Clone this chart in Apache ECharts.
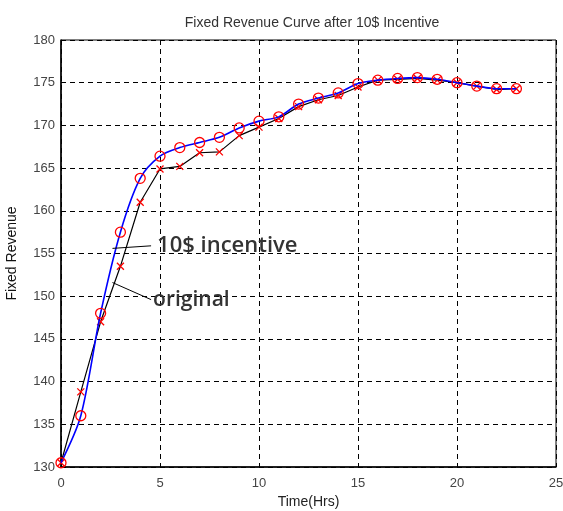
<!DOCTYPE html>
<html>
<head>
<meta charset="utf-8">
<script src="https://cdn.jsdelivr.net/npm/echarts@6/dist/echarts.min.js"></script>
<style>
html,body{margin:0;padding:0;background:#fff;}
#c{width:563px;height:511px;}
</style>
</head>
<body>
<div id="c"></div>
<script>
var hours = [0,1,2,3,4,5,6,7,8,9,10,11,12,13,14,15,16,17,18,19,20,21,22,23];
var incentive = [130.5,136.0,148.0,157.5,163.8,166.4,167.4,168.0,168.6,169.7,170.5,171.0,172.5,173.2,173.8,174.9,175.3,175.5,175.6,175.4,175.0,174.6,174.3,174.3];
var original = [130.5,138.8,147.0,153.5,161.0,164.9,165.2,166.8,166.9,168.8,169.8,170.8,172.2,173.0,173.5,174.5,175.3,175.4,175.5,175.3,175.0,174.6,174.2,174.3];
var xTicks = [0,5,10,15,20,25];
var yTicks = [130,135,140,145,150,155,160,165,170,175,180];
var titleText = 'Fixed Revenue Curve after 10$ Incentive';
var xName = 'Time(Hrs)';
var yName = 'Fixed Revenue';
var labelIncentive = '10$ incentive';
var labelOriginal = 'original';
var leaderIncentive = [[2.6,155.6],[4.55,155.9]];
var leaderOriginal = [[2.6,151.6],[4.55,149.6]];

var chart = echarts.init(document.getElementById('c'));
var crossPath = 'path://M0,0L10,10M10,0L0,10';
var splitStyle = {show:true, lineStyle:{color:'#000', type:[5,4], width:1}};
chart.setOption({
  backgroundColor:'#fff',
  animation:false,
  title:{text:titleText, left:307, top:11, textAlign:'center',
    textStyle:{fontFamily:'Liberation Sans', fontSize:14, fontWeight:'normal', color:'#333'}},
  grid:{left:61, right:7, top:40, bottom:44, containLabel:false, outerBoundsMode:'none',
    show:true, borderColor:'#000', borderWidth:1, backgroundColor:'transparent'},
  xAxis:{type:'value', min:0, max:25, interval:5, name:xName, nameLocation:'middle', nameGap:28,
    nameTextStyle:{fontFamily:'Liberation Sans', fontSize:14, color:'#222'},
    axisLine:{show:true, lineStyle:{color:'#000', width:1.5}},
    axisTick:{show:true, inside:true, length:4, lineStyle:{color:'#000'}},
    axisLabel:{fontFamily:'Liberation Sans', fontSize:13, color:'#444', margin:10,
      formatter:function(v){return xTicks.indexOf(v)>=0? String(v):'';}},
    splitLine:splitStyle},
  yAxis:{type:'value', min:130, max:180, interval:5, name:yName, nameLocation:'middle', nameGap:42,
    nameTextStyle:{fontFamily:'Liberation Sans', fontSize:14, color:'#111'},
    axisLine:{show:true, lineStyle:{color:'#000', width:1.5}},
    axisTick:{show:true, inside:true, length:4, lineStyle:{color:'#000'}},
    axisLabel:{fontFamily:'Liberation Sans', fontSize:13, color:'#444', margin:6,
      formatter:function(v){return yTicks.indexOf(v)>=0? String(v):'';}},
    splitLine:splitStyle},
  series:[
    {name:'original', type:'line', data:hours.map(function(h,i){return [h, original[i]];}),
      lineStyle:{color:'#000', width:1.2}, symbol:crossPath, symbolSize:7,
      itemStyle:{color:'none', borderColor:'#ff0000', borderWidth:1.3},
      markLine:{silent:true, symbol:'none', animation:false,
        lineStyle:{color:'#000', width:1, type:'solid'}, label:{show:false},
        data:[[{coord:leaderIncentive[0]},{coord:leaderIncentive[1]}],
              [{coord:leaderOriginal[0]},{coord:leaderOriginal[1]}]]},
      markPoint:{silent:true, symbol:'circle', symbolSize:0,
        label:{show:true, position:'right', distance:2, fontFamily:'Open Sans', fontWeight:600, fontSize:21, color:'#333'},
        data:[{coord:leaderIncentive[1], label:{formatter:labelIncentive, fontSize:22, distance:6}},
              {coord:leaderOriginal[1], label:{formatter:labelOriginal, distance:2}}]},
      z:2},
    {name:'incentive', type:'line', smooth:0.3, data:hours.map(function(h,i){return [h, incentive[i]];}),
      lineStyle:{color:'#0000ff', width:1.6}, symbol:'circle', symbolSize:10,
      itemStyle:{color:'none', borderColor:'#ff0000', borderWidth:1.3}, z:3}
  ]
});
</script>
</body>
</html>
